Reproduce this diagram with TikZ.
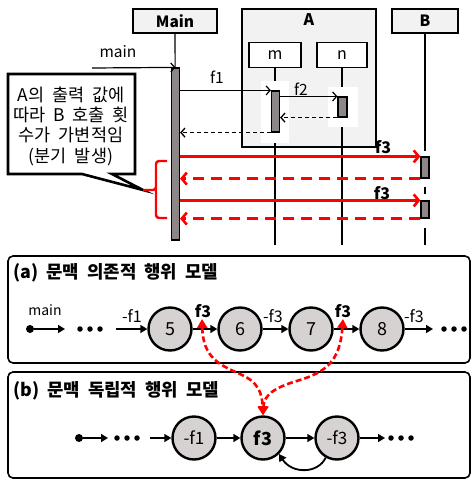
\documentclass[tikz,border=0pt]{standalone}
\usepackage{fontspec}
\setmainfont{Noto Sans CJK KR}[WordSpace=2]
\usetikzlibrary{arrows.meta,calc}
\definecolor{hdr}{RGB}{242,242,242}
\definecolor{barc}{RGB}{140,134,134}
\definecolor{circc}{RGB}{214,210,209}
\definecolor{redc}{RGB}{255,0,0}
\begin{document}
\begin{tikzpicture}[x=1pt,y=-1pt,
  hdrbox/.style={draw, line width=1.5pt, fill=hdr, inner sep=0pt, font=\bfseries\fontsize{15.5}{17}\selectfont},
  subbox/.style={draw, line width=1.5pt, fill=white, inner sep=0pt, font=\fontsize{16}{18}\selectfont},
  life/.style={line width=1.1pt},
  actbar/.style={draw, line width=1.2pt, fill=barc, inner sep=0pt, minimum width=8pt},
  msg/.style={line width=1.2pt, -{Straight Barb[length=4pt,width=9pt]}},
  ret/.style={line width=1.3pt, dash pattern=on 4pt off 3pt, -{Straight Barb[length=4pt,width=9pt]}},
  redmsg/.style={draw=redc, line width=2.6pt, -{Straight Barb[length=5pt,width=12pt]}},
  redret/.style={draw=redc, line width=2.6pt, dash pattern=on 11pt off 7pt, -{Straight Barb[length=5pt,width=12pt]}},
  lbl/.style={font=\fontsize{15.5}{17}\selectfont, inner sep=0pt},
  blbl/.style={font=\bfseries\fontsize{16}{18}\selectfont, inner sep=0pt},
  panel/.style={draw, line width=1.6pt, rounded corners=5pt},
  ptitle/.style={font=\bfseries\fontsize{17.8}{19}\selectfont, anchor=west, inner sep=0pt},
  st/.style={circle, draw, line width=2.4pt, fill=circc, minimum size=43pt, inner sep=0pt, font=\fontsize{18}{20}\selectfont},
  pdot/.style={circle, fill=black, minimum size=5.5pt, inner sep=0pt},
  sdot/.style={circle, fill=black, minimum size=8pt, inner sep=0pt},
  parr/.style={line width=1.6pt, -{Triangle[length=7pt,width=8pt]}},
  rdash/.style={draw=redc, line width=2.6pt, dash pattern=on 6pt off 3pt, {Triangle[length=9pt,width=10pt]}-{Triangle[length=9pt,width=10pt]}}
]
\useasboundingbox (0,0) rectangle (472,479);

% ---------- sequence part ----------
\node[draw, line width=1.5pt, fill=hdr, minimum width=134pt, minimum height=138pt, inner sep=0pt] (A) at (309,78) {};
\node[blbl] (Alab) at (309,20) {A};
\node[hdrbox, minimum width=84pt, minimum height=24pt] (Main) at (175,21) {Main};
\node[hdrbox, minimum width=66pt, minimum height=24pt] (B) at (425,21) {B};
\node[subbox, minimum width=52pt, minimum height=25pt] (m) at (275,55) {m};
\node[subbox, minimum width=50pt, minimum height=25pt] (n) at (342,55) {n};

\coordinate (mainend) at (175.5,240);
\coordinate (mend) at (275,245);
\coordinate (nend) at (342,245);
\coordinate (Bend) at (425,245);
\draw[life] (Main.south) -- (mainend);
\draw[life] (m.south) -- (mend);
\draw[life] (n.south) -- (nend);
\draw[life] (B.south) -- (Bend);

% white backgrounds behind activation bars
\fill[white] (261,81) rectangle (289,143);
\fill[white] (328,87) rectangle (358,127);
\fill[white] (416,151) rectangle (434,187);
\fill[white] (416,194) rectangle (434,228);

\node[actbar, minimum height=172pt] (mbar) at (175.5,154) {};
\node[actbar, minimum height=41pt] (mmbar) at (275.5,111.5) {};
\node[actbar, minimum width=9pt, minimum height=20pt] (nbar) at (342.5,107) {};
\node[actbar, minimum height=21pt] (B1) at (425,167.5) {};
\node[actbar, minimum height=17pt] (B2) at (425,209.5) {};

\coordinate (mainin) at (92,68);
\draw[msg] (mainin) -- (mbar.north);
\node[lbl] (mainlab) at (118,52) {main};

\draw[msg] (mbar.east |- mmbar.north west) -- (mmbar.north west);
\node[lbl] (f1lab) at (217,77) {f1};
\draw[msg] (mmbar.east |- nbar.north west) -- (nbar.north west);
\node[lbl] (f2lab) at (301,89) {f2};
\draw[ret] (nbar.south west) -- (mmbar.east |- nbar.south west);
\draw[ret] (mmbar.south west) -- (mbar.east |- mmbar.south west);

\draw[redmsg] (mbar.east |- B1.north west) -- (B1.north west);
\draw[redret] (B1.south west) -- (mbar.east |- B1.south west);
\draw[redmsg] (mbar.east |- B2.north west) -- (B2.north west);
\draw[redret] (B2.south west) -- (mbar.east |- B2.south west);
\node[blbl] (f3a) at (383,147) {f3};
\node[blbl] (f3b) at (382,193) {f3};

% callout
\draw[line width=2.6pt, fill=white, line join=miter]
  (8,74) -- (135,74) -- (135,174) -- (112,174) -- (143,190) -- (82,174) -- (8,174) -- cycle;
\node[align=center, font=\fontsize{17.5}{20.3}\selectfont, inner sep=0pt] (calltext) at (71,126)
  {A의 출력 값에\\따라 B 호출 횟\\수가 가변적임\\(분기 발생)};
% red bracket
\draw[redc, line width=2.4pt, rounded corners=3pt] (167,161) -- (156,161) -- (156,190) -- (143,190);
\draw[redc, line width=2.4pt, rounded corners=3pt] (156,188) -- (156,218) -- (167,218);

% ---------- panel (a) ----------
\draw[panel] (8,256) rectangle (470,363);
\node[ptitle] (ta) at (13,273) {(a) 문맥 의존적 행위 모델};
\node[sdot] (sa) at (30,329) {};
\coordinate (sae) at (65,329);
\draw[parr] (sa) -- (sae);
\node[lbl, font=\fontsize{14}{16}\selectfont] (amain) at (45,310) {main};
\node[pdot] (ad1) at (80,329) {};
\node[pdot] (ad2) at (90,329) {};
\node[pdot] (ad3) at (100,329) {};
\node[st] (c5) at (170,329) {5};
\node[st] (c6) at (240,329) {6};
\node[st] (c7) at (311,329) {7};
\node[st] (c8) at (382,329) {8};
\coordinate (a1s) at (116,329);
\draw[parr] (a1s) -- (c5);
\draw[parr] (c5) -- (c6);
\draw[parr] (c6) -- (c7);
\draw[parr] (c7) -- (c8);
\coordinate (a8e) at (433,329);
\draw[parr] (c8) -- (a8e);
\node[pdot] (ad4) at (444,329) {};
\node[pdot] (ad5) at (454,329) {};
\node[pdot] (ad6) at (464,329) {};
\node[lbl, font=\fontsize{16}{18}\selectfont] (lf1) at (132,316) {-f1};
\node[blbl] (lf3a) at (203,311) {f3};
\node[lbl, font=\fontsize{16}{18}\selectfont] (lm3a) at (273,316) {-f3};
\node[blbl] (lf3b) at (343,311) {f3};
\node[lbl, font=\fontsize{16}{18}\selectfont] (lm3b) at (414,316) {-f3};

% ---------- panel (b) ----------
\draw[panel] (8,372) rectangle (470,478);
\node[ptitle] (tb) at (13,391) {(b) 문맥 독립적 행위 모델};
\node[sdot] (sb) at (79,438) {};
\coordinate (sbe) at (108,438);
\draw[parr] (sb) -- (sbe);
\node[pdot] (bd1) at (117,438) {};
\node[pdot] (bd2) at (127,438) {};
\node[pdot] (bd3) at (137,438) {};
\node[st, font=\fontsize{17}{19}\selectfont] (bf1) at (194,438) {-f1};
\node[st, font=\bfseries\fontsize{18}{20}\selectfont] (bf3) at (263,438) {f3};
\node[st, font=\fontsize{17}{19}\selectfont] (bm3) at (337,438) {-f3};
\coordinate (b1s) at (150,438);
\draw[parr] (b1s) -- (bf1);
\draw[parr] (bf1) -- (bf3);
\draw[parr] (bf3) -- (bm3);
\coordinate (bme) at (385,438);
\draw[parr] (bm3) -- (bme);
\node[pdot] (bd4) at (391,438) {};
\node[pdot] (bd5) at (401,438) {};
\node[pdot] (bd6) at (411,438) {};
\draw[line width=1.8pt, -{Triangle[length=7pt,width=8pt]}] (bm3.240) .. controls (318,474) and (292,474) .. (bf3.-45);

% red dashed links
\coordinate (r1) at (202,319);
\coordinate (r2) at (343,319);
\draw[rdash] (r1) .. controls (203,358) and (220,365) .. (240,374) .. controls (258,382) and (262,392) .. (bf3.north);
\draw[rdash] (r2) .. controls (340,362) and (325,372) .. (300,380) .. controls (272,388) and (264,396) .. (bf3.north);
\end{tikzpicture}
\end{document}
